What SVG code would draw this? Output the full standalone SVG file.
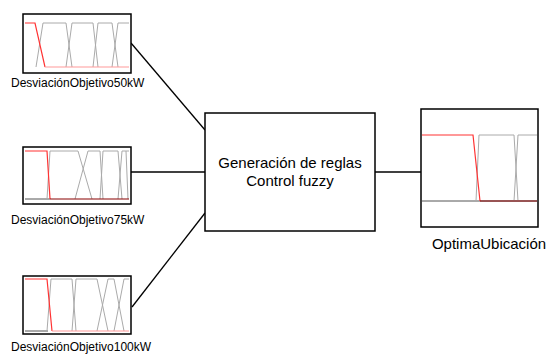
<svg xmlns="http://www.w3.org/2000/svg" width="549" height="354" viewBox="0 0 549 354">
<style>
.box{fill:#fff;stroke:#000;stroke-width:1.5}
.lbl{font-family:"Liberation Sans",Arial,sans-serif;font-size:12px;fill:#000;text-anchor:start}
.big{font-family:"Liberation Sans",Arial,sans-serif;font-size:15px;fill:#000;text-anchor:middle}
.mf{fill:none;stroke:#aaa;stroke-width:1}
.red{fill:none;stroke:#f33;stroke-width:1.2}
.pink{fill:none;stroke:#f99;stroke-width:1}
.dred{fill:none;stroke:#800;stroke-width:1}
.base{fill:none;stroke:#555;stroke-width:1}
.conn{fill:none;stroke:#000;stroke-width:1.3}
</style>
<g id="connectors">
<line class="conn" x1="131" y1="43" x2="205" y2="130"/>
<line class="conn" x1="131" y1="172" x2="205" y2="172"/>
<line class="conn" x1="132" y1="307" x2="205" y2="213"/>
<line class="conn" x1="375" y1="172" x2="421" y2="172"/>
</g>
<g id="in50">
<rect class="box" x="23" y="14" width="108" height="59"/>
<polyline class="mf" points="36,67 43,23 66,23 72,67"/>
<polyline class="mf" points="66,67 72,23 93,23 98,67"/>
<polyline class="mf" points="93,67 98,23 112,23 118,67"/>
<polyline class="mf" points="112,67 118,23 129,23"/>
<polyline class="red" points="25,23 35,23 45,67"/>
<line class="pink" x1="45" y1="67" x2="129" y2="67"/>
<text class="lbl" x="11" y="87">DesviaciónObjetivo50kW</text>
</g>
<g id="in75">
<rect class="box" x="23" y="147" width="108" height="57"/>
<line class="base" x1="25" y1="199" x2="50" y2="199"/>
<polyline class="mf" points="47,199 50,151 78,151 92,199"/>
<polyline class="mf" points="75,199 88,151 100,151 103,199"/>
<polyline class="mf" points="100,199 103,151 118,151 122,199"/>
<polyline class="mf" points="118,199 122,151 126,151 128,199"/>
<line class="mf" x1="126" y1="151" x2="129" y2="151"/>
<polyline class="red" points="25,151 47,151 50,199"/>
<line class="dred" x1="50" y1="199" x2="129" y2="199"/>
<text class="lbl" x="11" y="224">DesviaciónObjetivo75kW</text>
</g>
<g id="in100">
<rect class="box" x="23" y="276" width="108" height="58"/>
<line class="base" x1="25" y1="331" x2="48" y2="331"/>
<polyline class="mf" points="47,331 51,279 72,279 76,331"/>
<polyline class="mf" points="72,331 76,279 97,279 108,331"/>
<polyline class="mf" points="97,331 108,279 114,279 124,331"/>
<polyline class="mf" points="114,331 124,279 129,279"/>
<polyline class="red" points="25,279 47,279 52,331"/>
<line class="pink" x1="52" y1="331" x2="129" y2="331"/>
<text class="lbl" x="11" y="350.5">DesviaciónObjetivo100kW</text>
</g>
<g id="fuzzy">
<rect class="box" x="205" y="113" width="170" height="118"/>
<text class="big" x="290" y="168">Generación de reglas</text>
<text class="big" x="290" y="186">Control fuzzy</text>
</g>
<g id="out">
<rect class="box" x="421" y="109" width="117" height="118"/>
<line class="base" x1="422" y1="201" x2="537" y2="201"/>
<polyline class="mf" points="476,201 479,135 514,135 518,201"/>
<polyline class="mf" points="514,201 518,135 537,135"/>
<polyline class="red" points="422,135 473,135 480,201"/>
<line class="dred" x1="480" y1="201" x2="537" y2="201"/>
<text class="big" x="489" y="249">OptimaUbicación</text>
</g>
</svg>
